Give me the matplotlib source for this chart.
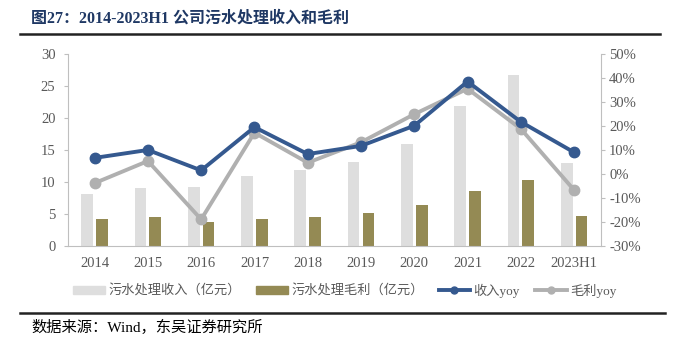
import numpy as np
import matplotlib.pyplot as plt
from matplotlib.lines import Line2D
from matplotlib.patches import Patch
from matplotlib.ticker import FuncFormatter

# Data (亿元 / %)
years = ['2014', '2015', '2016', '2017', '2018', '2019', '2020', '2021', '2022', '2023H1']
revenue = [8.2, 9.1, 9.2, 11.0, 11.9, 13.2, 15.9, 21.9, 26.7, 13.0]
gross_profit = [4.3, 4.5, 3.75, 4.3, 4.5, 5.15, 6.4, 8.65, 10.3, 4.75]
revenue_yoy = [6.7, 10.0, 1.5, 19.5, 8.3, 11.7, 20.1, 38.5, 21.7, 9.0]
profit_yoy = [-3.8, 5.4, -18.9, 17.2, 4.7, 13.2, 24.9, 35.5, 18.8, -6.7]

SERIF_CJK = ['Liberation Serif', 'Noto Sans CJK SC']

C_REV = '#DEDEDE'
C_GP = '#948A54'
C_BLUE = '#35598F'
C_GRAY = '#B0B0B0'
C_TICK = '#595959'
C_AXIS = '#BFBFBF'

fig = plt.figure(figsize=(6.75, 3.5), dpi=100)
ax = fig.add_axes([0.1007, 0.297, 0.7893, 0.549])
ax2 = ax.twinx()

x = np.arange(len(years))
w = 0.22
ax.bar(x - 0.14, revenue, width=w, color=C_REV, zorder=1)
ax.bar(x + 0.14, gross_profit, width=w, color=C_GP, zorder=1)

ax2.plot(x, revenue_yoy, color=C_BLUE, lw=2.8, marker='o', ms=7.5, zorder=3)
ax2.plot(x, profit_yoy, color=C_GRAY, lw=2.8, marker='o', ms=7.5, zorder=2)

ax.set_xlim(-0.5, len(years) - 0.5)
ax.set_ylim(0, 30)
ax.set_yticks(range(0, 31, 5))
ax2.set_ylim(-30, 50)
ax2.set_yticks(range(-30, 51, 10))
ax2.yaxis.set_major_formatter(FuncFormatter(lambda v, p: f'{int(v)}%'))

ax.set_xticks(x)
ax.set_xticklabels(years)

for a in (ax, ax2):
    for s in a.spines.values():
        s.set_visible(False)
ax.spines['left'].set_visible(True)
ax.spines['left'].set_color(C_AXIS)
ax.spines['bottom'].set_visible(True)
ax.spines['bottom'].set_color(C_AXIS)
ax2.spines['right'].set_visible(True)
ax2.spines['right'].set_color(C_AXIS)

ax.tick_params(axis='y', length=3, color=C_AXIS, labelcolor=C_TICK, labelsize=10.5, pad=6)
ax.tick_params(axis='x', length=0, labelcolor=C_TICK, labelsize=10.5, pad=8)
ax2.tick_params(axis='y', length=3, color=C_AXIS, labelcolor=C_TICK, labelsize=10.5, pad=3)
for lab in ax.get_xticklabels() + ax.get_yticklabels() + ax2.get_yticklabels():
    lab.set_family('Liberation Serif')

# Legend
handles = [
    Patch(color=C_REV),
    Patch(color=C_GP),
    Line2D([], [], color=C_BLUE, lw=2.8, marker='o', ms=5),
    Line2D([], [], color=C_GRAY, lw=2.8, marker='o', ms=5),
]
labels = ['污水处理收入（亿元）', '污水处理毛利（亿元）', '收入yoy', '毛利yoy']
leg = fig.legend(handles, labels, loc='center', bbox_to_anchor=(0.511, 0.17), ncol=4,
                 frameon=False, handlelength=2.4, handleheight=0.55, handletextpad=0.25,
                 columnspacing=1.15, prop={'family': SERIF_CJK, 'size': 9.5})
for t in leg.get_texts():
    t.set_color(C_TICK)

# Title, rules and source note
fig.text(0.046, 0.948, '图27：2014-2023H1 公司污水处理收入和毛利', family=SERIF_CJK,
         weight='bold', size=11.5, color='#1F3864', va='center')
fig.add_artist(Line2D([0.03, 0.978], [0.903, 0.903], color='#222222', lw=1.8))
fig.add_artist(Line2D([0.03, 0.985], [0.106, 0.106], color='#222222', lw=1.8))
fig.text(0.046, 0.065, '数据来源：Wind，东吴证券研究所', family=SERIF_CJK,
         size=11, color='black', va='center')

fig.savefig('out.png', dpi=100)
